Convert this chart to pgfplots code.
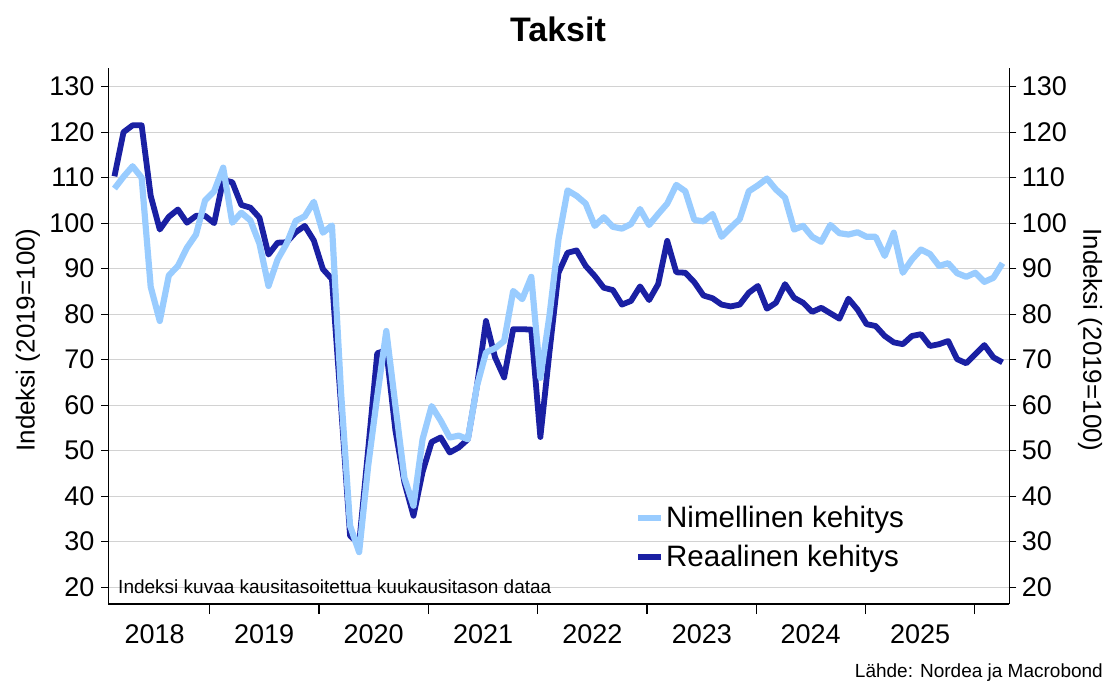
\documentclass[border=0pt]{standalone}
\usepackage{fontspec}
\setmainfont{Liberation Sans}
\usepackage{pgfplots}
\usepackage{pgfplotstable}
\pgfplotsset{compat=1.18}
\definecolor{lightb}{RGB}{153,204,255}
\definecolor{darkb}{RGB}{26,32,163}
\definecolor{gridc}{RGB}{210,210,210}

\pgfplotstableread{
i nom real
0 107.6 110.3
1 110.2 120.0
2 112.5 121.5
3 110.0 121.5
4 86.0 106.0
5 78.5 98.6
6 88.5 101.4
7 90.6 103.0
8 94.6 100.1
9 97.5 101.6
10 105.0 101.6
11 107.0 100.0
12 112.2 109.5
13 100.1 109.0
14 102.3 104.0
15 100.6 103.4
16 95.5 101.2
17 86.2 93.1
18 92.0 95.7
19 95.5 95.8
20 100.5 98.0
21 101.5 99.4
22 104.7 96.2
23 97.9 89.9
24 99.5 87.7
25 63.0 60.0
26 33.5 31.3
27 27.7 29.5
28 46.7 50.3
29 62.0 71.4
30 76.3 72.1
31 60.0 54.5
32 44.0 43.0
33 37.9 35.7
34 52.5 45.3
35 59.8 51.9
36 56.6 52.9
37 52.9 49.6
38 53.3 50.7
39 52.5 52.5
40 64.2 64.2
41 71.6 78.5
42 72.5 70.5
43 74.1 66.1
44 85.1 76.7
45 83.3 76.7
46 88.2 76.6
47 66.0 53.0
48 79.6 71.6
49 96.4 89.1
50 107.2 93.5
51 106.0 94.0
52 104.3 90.6
53 99.4 88.4
54 101.3 85.8
55 99.2 85.3
56 98.8 82.1
57 99.8 82.9
58 103.1 86.1
59 99.6 83.1
60 102.0 86.6
61 104.3 96.1
62 108.4 89.2
63 107.0 89.1
64 100.7 87.0
65 100.4 84.1
66 102.0 83.5
67 97.0 82.1
68 99.0 81.7
69 100.9 82.1
70 107.0 84.7
71 108.3 86.2
72 109.8 81.2
73 107.4 82.5
74 105.6 86.6
75 98.6 83.6
76 99.4 82.5
77 97.0 80.5
78 95.9 81.4
79 99.6 80.2
80 97.8 79.0
81 97.5 83.4
82 98.0 81.0
83 97.0 77.8
84 97.0 77.4
85 92.8 75.2
86 97.9 73.8
87 89.1 73.4
88 92.0 75.2
89 94.2 75.6
90 93.2 73.0
91 90.6 73.4
92 91.2 74.1
93 89.0 70.1
94 88.2 69.2
95 89.1 71.2
96 87.1 73.2
97 88.0 70.5
98 91.2 69.4
}\data

\begin{document}
\begin{tikzpicture}[x=1pt,y=1pt]
\useasboundingbox (0,0) rectangle (1107,683);
\pgfplotsset{
  common/.style={
    at={(108.3pt,79pt)}, anchor=south west,
    scale only axis, width=901pt, height=536pt,
    xmin=-0.68, xmax=98.75, ymin=16.3, ymax=134.1,
    ytick={20,30,...,130},
    /pgf/number format/assume math mode=true,
    tick label style={font=\fontsize{27}{31}\selectfont},
    tick align=outside,
    axis line style={line width=1.5pt, black},
    tick style={line width=1.3pt, black},
  }
}
\begin{axis}[common,
  axis x line*=bottom, axis y line*=left,
  ymajorgrids, grid style={gridc, line width=1pt},
  xtick={10.47,22.56,34.63,46.71,58.78,70.86,82.87,94.94},
  xticklabels={2018,2019,2020,2021,2022,2023,2024,2025},
  xticklabel style={xshift=-54.7pt, yshift=-12.5pt},
  xtick style={/pgfplots/major tick length=10pt},
  ytick style={/pgfplots/major tick length=7pt},
  yticklabel style={xshift=-6pt},
  reverse legend,
  legend style={at={(0.581,0.19)}, anchor=north west, draw=none, fill=none,
    font=\fontsize{29.5}{34}\selectfont, row sep=12pt},
  legend cell align=left,
  legend image code/.code={\draw[#1] (0pt,0pt) -- (23pt,0pt);},
]
\addplot[darkb, line width=5.8pt, line join=round] table[x=i, y=real] {\data};
\addlegendentry{Reaalinen kehitys}
\addplot[lightb, line width=6.2pt, line join=round] table[x=i, y=nom] {\data};
\addlegendentry{Nimellinen kehitys}
\node[anchor=base west, font=\fontsize{19}{22}\selectfont, inner sep=0pt] at (rel axis cs:0.0108,0.0187) {Indeksi kuvaa kausitasoitettua kuukausitason dataa};
\end{axis}
\begin{axis}[common,
  axis y line*=right, axis x line=none,
  major tick length=7pt,
  yticklabel style={xshift=2pt},
]
\end{axis}
\node[font=\fontsize{34}{40}\selectfont\bfseries, anchor=base] at (558,641) {Taksit};
\node[font=\fontsize{26}{30}\selectfont, rotate=90, anchor=center] at (28,343) {Indeksi (2019=100)};
\node[font=\fontsize{26}{30}\selectfont, rotate=-90, anchor=center] at (1090,343) {Indeksi (2019=100)};
\node[font=\fontsize{19}{22}\selectfont, anchor=base east, inner sep=0pt] at (1103,6) {Lähde: Nordea ja Macrobond};
\end{tikzpicture}
\end{document}
